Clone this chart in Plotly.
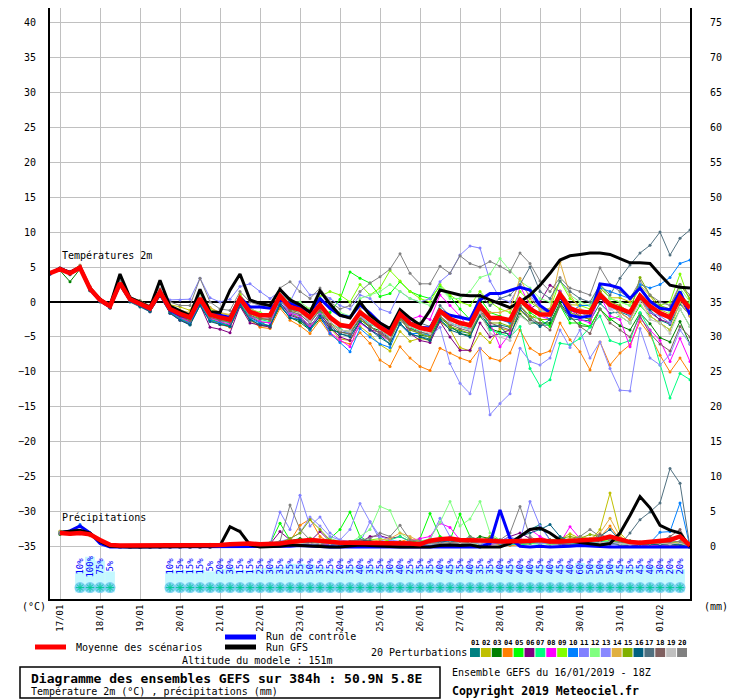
import pandas as pd
import plotly.graph_objects as go

MONO = "DejaVu Sans Mono"

# GEFS 16/01/2019 18Z, pas de 6h sur 384h
start = pd.Timestamp("2019-01-16 18:00")
temp_times = pd.date_range(start, periods=65, freq="6h")
precip_times = temp_times[1:]
day_ticks = pd.date_range("2019-01-17", periods=16, freq="D")
day_labels = ["17/01", "18/01", "19/01", "20/01", "21/01", "22/01", "23/01", "24/01",
              "25/01", "26/01", "27/01", "28/01", "29/01", "30/01", "31/01", "01/02"]

# ---- temperatures 2m (°C) : 1ere valeur puis 4 valeurs par jour (00Z 06Z 12Z 18Z)
mean_t = [4.1, 4.7, 4.1, 4.9, 1.9,  0.3, -0.6, 2.7, 0.4,  -0.2, -0.9, 1.4, -1.0,  -1.7, -2.2, 0.5, -1.8,
          -2.2, -2.5, 0.5, -1.4,  -1.9, -1.9, 0.9, -0.7,  -1.1, -2.2, -0.4, -2.2,  -3.3, -3.5, -1.5, -2.6,
          -3.6, -4.5, -1.7, -3.1,  -3.7, -4.0, -1.3, -2.4,  -3.0, -3.3, -0.5, -2.3,  -2.3, -2.6, 0.3, -1.0,
          -1.8, -1.8, 1.1, -0.9,  -1.4, -1.5, 1.0, -0.4,  -0.9, -1.5, 0.9, -0.6,  -1.6, -2.2, 0.7, -0.9]
ctrl_t = [4.1, 4.8, 4.2, 4.9, 1.8,  0.2, -0.7, 2.6, 0.3,  -0.3, -1.0, 1.2, -1.2,  -1.9, -2.3, 0.3, -1.5,
          -1.9, -2.2, 0.6, -0.7,  -0.7, -0.9, 0.3, -0.2,  -0.7, -1.4, 0.5, -0.9,  -1.9, -2.2, -0.4, -1.6,
          -3.0, -4.0, -1.5, -3.0,  -3.6, -3.7, -1.2, -1.9,  -2.2, -2.5, 0.3, 1.2,  1.2, 1.7, 2.1, 1.7,
          -0.5, -1.5, 1.0, -1.9,  -2.2, -2.0, 2.6, 2.4,  2.0, 0.5, 2.0, 0.1,  -0.9, -1.1, 1.5, -1.8]
gfs_t = [4.1, 4.8, 4.2, 5.0, 2.0,  0.4, -0.5, 4.0, 0.6,  0.0, -0.8, 3.1, -0.6,  -1.3, -1.9, 1.8, -1.4,
         -1.5, 1.7, 4.0, 0.3,  -0.2, -0.5, 1.8, 0.3,  -0.4, -1.5, 1.6, -0.3,  -1.9, -2.3, 0.0, -1.9,
         -3.0, -3.8, -1.1, -2.3,  -3.3, -1.2, 1.7, 1.3,  1.0, 0.9, 0.9, 0.3,  -0.2, -0.8, 0.0, 1.0,
         2.4, 4.1, 6.0, 6.6,  6.8, 7.0, 7.0, 6.8,  6.2, 5.6, 5.6, 5.5,  3.9, 2.4, 2.1, 2.0]

p01_t = [4.1, 4.6, 4.0, 4.8, 1.8,  0.1, -0.8, 2.5, 0.2,  -0.5, -1.2, 1.1, -1.3,  -2.3, -2.8, -0.1, -2.4,
         -3.0, -3.3, -0.3, -2.2,  -2.9, -2.9, -0.1, -1.7,  -2.3, -3.4, -1.8, -3.4,  -4.6, -4.8, -2.8, -3.9,
         -5.1, -6.0, -3.2, -4.6,  -5.0, -5.3, -2.6, -3.7,  -4.2, -4.5, -1.7, -3.5,  -3.3, -3.6, -0.7, -2.0,
         -3.3, -3.3, -0.4, -2.4,  -2.6, -2.7, -0.2, -1.6,  -1.4, -2.0, 0.4, -1.1,  -2.6, -3.2, -0.3, -1.9]
p02_t = [4.2, 4.7, 4.2, 5.0, 2.0,  0.4, -0.5, 2.8, 0.6,  0.2, -0.6, 1.7, -0.4,  -0.7, -1.2, 1.5, -0.8,
         -1.6, -1.9, 1.1, -0.8,  -2.4, -2.4, 0.4, -1.2,  -2.6, -3.7, -2.1, -3.7,  -5.3, -5.5, -3.5, -4.6,
         -6.1, -7.0, -4.2, -5.6,  -5.2, -5.5, -2.8, -3.9,  -6.5, -7.0, -4.5, -5.8,  -3.8, -4.1, -1.2, -2.5,
         -1.3, -1.3, 1.6, -0.4,  -0.4, -0.5, 2.0, 0.6,  0.6, 0.0, 2.4, 0.9,  -1.1, -1.7, 1.2, -0.4]
p03_t = [4.0, 4.5, 2.9, 4.7, 1.6,  0.1, -0.8, 2.5, 0.2,  -0.6, -1.3, 1.0, -1.4,  -2.5, -3.0, -0.3, -2.6,
         -3.2, -3.5, -0.5, -2.4,  -3.4, -3.4, -0.6, -2.2,  -2.9, -4.0, -2.4, -4.0,  -4.3, -4.5, -2.5, -3.6,
         -4.1, -5.0, -2.2, -3.6,  -4.7, -5.0, -2.3, -3.4,  -4.5, -4.8, -2.0, -3.8,  -4.3, -4.6, -1.7, -3.0,
         -3.0, -3.0, -0.1, -2.1,  -3.4, -3.5, -1.0, -2.4,  -3.4, -4.0, -1.6, -3.1,  -5.1, -5.7, -2.8, -6.0]
p04_t = [4.1, 4.8, 4.1, 5.0, 1.9,  0.3, -0.6, 2.9, 0.4,  -0.4, -1.2, 1.2, -1.3,  -2.4, -2.9, -0.2, -2.5,
         -3.2, -3.6, -0.6, -2.6,  -3.6, -3.8, -0.9, -2.6,  -3.4, -4.5, -2.6, -4.6,  -5.6, -6.0, -4.4, -5.9,
         -8.3, -9.2, -6.4, -8.0,  -9.2, -9.8, -6.6, -7.3,  -8.0, -8.5, -6.6, -8.0,  -8.4, -7.3, -4.0, -6.6,
         -7.5, -7.0, -3.0, -5.4,  -7.1, -9.7, -5.7, -9.0,  -7.3, -6.1, -2.8, -4.7,  -7.6, -10.0, -8.0, -10.2]
p05_t = [4.2, 4.8, 4.3, 5.1, 2.0,  0.2, -0.8, 2.6, 0.1,  -0.5, -1.3, 1.0, -1.5,  -2.3, -3.2, -0.5, -2.6,
         -2.8, -3.5, -0.2, -2.0,  -2.8, -3.6, 0.2, -1.0,  -1.3, -2.0, -1.2, -1.5,  0.4, 4.3, 3.4, 2.7,
         0.8, 1.2, 2.9, 1.5,  0.9, 0.5, 2.2, 0.8,  -1.0, -2.5, 0.5, -1.5,  -2.0, -3.0, 0.0, -1.5,
         -2.5, -3.5, -0.5, -3.0,  -3.0, -3.5, -1.0, -2.5,  -2.0, -3.0, -0.5, -2.0,  -3.0, -4.0, -1.0, -3.5]
p06_t = [4.0, 4.6, 4.3, 4.7, 1.7,  0.2, -0.8, 2.4, 0.1,  -0.5, -1.4, 1.0, -1.6,  -2.6, -3.2, -0.4, -3.6,
         -3.9, -4.4, -0.6, -3.0,  -3.3, -3.6, -0.1, -1.9,  -2.4, -3.6, -1.5, -3.6,  -5.0, -5.5, -2.8, -4.0,
         -4.3, -5.2, -2.0, -4.5,  -5.5, -5.8, -2.8, -5.0,  -6.9, -6.9, -3.0, -5.0,  -4.5, -4.0, 0.5, -1.0,
         0.0, 2.4, 1.5, -1.0,  -2.0, -2.5, 1.5, -0.5,  -1.5, -2.5, 0.5, -1.5,  -2.5, -3.0, 0.5, -2.0]
p07_t = [4.1, 4.7, 4.0, 4.8, 1.9,  0.3, -0.5, 2.7, 0.4,  -0.3, -0.9, 1.1, -1.2,  -2.0, -2.6, 0.0, -2.2,
         -2.7, -3.0, 0.2, -2.0,  -2.5, -2.8, 0.2, -1.5,  -2.0, -3.5, -1.6, -3.0,  -3.8, -4.6, -2.0, -3.2,
         -3.8, -5.2, -2.2, -3.6,  -4.2, -4.8, -1.0, -3.0,  -3.5, -3.8, -0.3, -4.0,  -4.5, -5.0, -3.5, -9.5,
         -12.0, -11.1, -5.9, -6.1,  -5.2, -3.6, -2.0, -5.5,  -6.0, -5.5, -1.5, -4.0,  -9.0, -13.7, -10.2, -11.1]
p08_t = [4.0, 4.6, 4.1, 4.8, 1.8,  0.2, -0.7, 2.6, 0.3,  -0.4, -1.1, 1.2, -1.3,  -2.2, -2.8, 0.0, -2.3,
         -2.8, -3.2, 0.0, -2.0,  -2.8, -3.0, 0.4, -1.6,  -2.0, -3.5, -1.8, -4.4,  -5.4, -6.4, -3.0, -4.0,
         -4.8, -5.5, -2.0, -2.5,  -2.0, -2.5, 1.0, -0.5,  -2.0, -4.0, -1.5, -3.0,  -6.4, -4.5, 2.3, -0.5,
         -2.0, -2.5, 1.5, -1.0,  -2.5, -3.0, 1.0, -2.0,  -2.5, -6.4, -2.3, -4.0,  -5.5, -8.5, -5.2, -8.5]
p09_t = [4.2, 4.8, 4.2, 5.1, 2.0,  0.3, -0.7, 2.7, 0.4,  -0.2, -1.0, 1.5, -0.9,  -1.5, -2.0, 1.0, -1.0,
         -1.8, -2.2, 1.0, -1.0,  -1.5, -2.0, 1.5, 0.5,  -0.5, -1.0, 0.8, 1.5,  1.0, 0.0, 2.5, 1.0,
         2.0, 4.5, 3.0, 1.5,  0.5, 0.0, 2.5, 1.0,  0.0, -0.5, 1.5, 0.0,  -1.0, -1.5, 1.5, 0.0,
         -1.0, -1.0, 3.0, 0.5,  -0.5, -1.0, 2.5, 0.5,  0.0, -0.5, 2.0, 0.0,  -0.5, 0.0, 4.0, 0.0]
p10_t = [4.0, 4.6, 4.0, 4.7, 1.7,  0.1, -0.8, 2.5, 0.2,  -0.5, -1.2, 1.1, -1.4,  -2.4, -3.0, -0.3, -2.6,
         -3.0, -3.5, -0.5, -2.4,  -3.0, -3.4, -0.3, -2.2,  -2.5, -4.0, -2.0, -4.5,  -5.8, -7.1, -3.8, -5.0,
         -6.0, -6.5, -3.0, -4.5,  -4.5, -4.8, -1.5, -3.0,  -3.5, -4.0, -0.8, -2.5,  -2.5, -3.0, 0.0, -1.0,
         -1.5, -2.5, 0.5, -1.5,  -0.5, -0.5, 2.0, 1.5,  1.0, 0.5, 2.5, 2.0,  2.5, 3.5, 5.5, 6.0]
p11_t = [4.2, 4.9, 4.3, 5.1, 2.1,  0.4, -0.4, 2.9, 0.6,  -0.1, -0.6, 1.7, 0.3,  0.3, 0.4, 3.4, 0.6,
         0.0, 0.4, 2.2, 2.6,  1.5, 0.5, 1.5, 0.0,  2.9, 1.0, 1.3, 0.5,  -0.5, -1.0, 1.0, 0.5,
         -1.0, -1.5, 1.5, 0.5,  0.0, 0.5, 2.9, 4.1,  6.7, 8.0, 7.7, 3.0,  0.5, 0.0, 2.5, 1.0,
         -1.0, -1.5, 1.5, -0.5,  -1.5, -2.0, 1.0, -1.0,  -1.0, -2.0, 0.5, -1.5,  -2.0, -3.0, 0.5, -1.5]
p12_t = [4.1, 4.7, 4.2, 5.0, 2.0,  0.4, -0.5, 2.9, 0.5,  -0.1, -0.8, 1.5, -0.8,  -1.4, -2.0, 0.9, -1.3,
         -1.8, -2.2, 0.8, -1.0,  -1.6, -1.8, 1.2, 0.0,  0.0, -1.0, 0.5, -1.0,  -1.5, -2.0, 0.5, 1.0,
         1.5, 2.5, 1.5, 0.5,  0.0, -0.5, 2.0, 0.5,  0.5, 1.5, 3.5, 4.0,  6.2, 4.5, 3.0, 2.0,
         0.5, 0.0, 3.0, 1.0,  0.0, -0.5, 2.5, 0.5,  0.0, -0.5, 2.0, 0.0,  -0.5, -1.5, 2.0, 0.0]
p13_t = [4.1, 4.7, 4.1, 4.9, 1.9,  0.3, -0.6, 2.7, 0.4,  -0.3, -1.0, 1.3, -1.1,  -1.9, -2.5, 0.2, -2.1,
         -2.4, -2.8, 0.3, -1.6,  -2.2, -2.5, 0.5, -1.4,  -1.8, -3.0, -1.0, -2.8,  -4.0, -4.5, -2.0, -3.5,
         -4.5, -5.5, -2.5, -4.0,  -4.5, -5.0, -3.6, -8.8,  -11.6, -13.1, -6.6, -16.1,  -14.5, -13.1, -6.6, -8.5,
         -9.0, -8.0, -4.0, -6.5,  -4.0, -8.0, -5.7, -9.5,  -12.6, -12.7, -3.8, -8.0,  -9.0, -7.5, -4.0, -6.0]
p14_t = [4.3, 4.9, 4.3, 5.3, 2.2,  0.4, -0.4, 3.0, 0.6,  0.0, -0.6, 1.7, -0.6,  -1.2, -1.5, 0.8, -0.8,
         -1.5, -1.8, 0.8, -0.8,  -1.8, -2.0, 1.0, -0.5,  -1.5, -2.5, -0.5, -2.0,  -3.0, -3.5, -1.0, -2.5,
         -3.5, -4.2, -1.5, -3.0,  -3.5, -4.0, -1.5, -2.5,  -3.0, -3.5, -0.5, -1.5,  -1.5, -1.0, 3.4, 0.5,
         -1.0, -1.0, 5.7, 1.0,  -1.0, -1.5, 1.5, -0.5,  -1.5, -2.5, 0.5, -2.0,  -3.0, -4.0, 0.0, -2.0]
p15_t = [4.1, 4.7, 4.0, 4.8, 1.8,  0.2, -0.7, 2.6, 0.3,  -0.3, -1.0, 1.3, -1.2,  -2.0, -2.6, 0.3, -2.0,
         -2.5, -2.8, 0.4, -1.7,  -2.3, -2.6, 0.5, -1.2,  -1.5, -2.8, -1.0, -3.0,  -4.0, -4.2, -2.5, -3.5,
         -4.5, -5.5, -2.5, -4.0,  -4.5, -5.0, -2.0, -3.5,  -4.0, -4.5, -1.5, -3.0,  -3.0, -3.5, -0.5, -2.0,
         -2.5, -2.5, 0.5, -1.5,  -2.0, -2.5, 1.5, 0.0,  -0.5, -1.5, 3.5, 1.0,  -0.5, -1.0, 2.5, 0.5]
p16_t = [4.0, 4.6, 3.9, 4.7, 1.6,  0.0, -0.9, 2.2, 0.0,  -0.7, -1.4, 0.8, -1.6,  -2.6, -3.3, -0.5, -2.8,
         -3.2, -3.5, -0.4, -2.6,  -3.2, -3.4, -0.4, -2.3,  -2.6, -3.8, -2.0, -3.8,  -4.5, -5.0, -2.8, -4.0,
         -4.8, -6.0, -3.0, -4.5,  -5.0, -5.5, -2.5, -4.0,  -4.5, -5.0, -1.8, -3.5,  -3.5, -5.0, -1.0, -2.5,
         -3.5, -2.5, 0.5, -1.0,  -1.5, -2.0, 0.5, -0.5,  -1.0, -1.5, 1.0, -1.0,  -1.5, -2.5, 0.5, -1.5]
p17_t = [4.1, 4.7, 4.1, 4.9, 1.9,  0.3, -0.6, 2.6, 0.3,  -0.3, -1.0, 1.2, -1.1,  -1.8, -2.3, 0.3, -1.8,
         -2.2, -2.5, 0.4, -1.5,  -2.0, -2.2, 0.5, -1.0,  -1.5, -2.5, -0.5, -2.5,  -3.5, -3.8, -1.5, -3.0,
         -3.8, -4.5, -1.5, -3.0,  -3.0, -3.5, -0.5, -2.0,  -2.0, -2.5, 1.0, -0.5,  0.5, 1.0, 2.5, 5.0,
         1.5, 0.5, 3.0, 1.5,  0.5, 0.0, 2.5, 1.0,  3.4, 5.3, 7.0, 8.1,  10.0, 6.7, 9.1, 10.3]
p18_t = [4.1, 4.7, 4.1, 4.8, 1.8,  0.2, -0.7, 2.5, 0.3,  -0.4, -1.1, 1.2, -1.3,  -2.1, -2.7, 0.1, -2.2,
         -2.6, -2.9, 0.2, -1.9,  -2.4, -2.5, 0.6, -1.3,  -1.8, -3.0, -1.2, -3.2,  -4.3, -4.6, -2.2, -3.5,
         -4.5, -5.3, -2.3, -3.8,  -4.3, -4.6, -2.0, -3.2,  -3.8, -4.2, -1.2, -3.0,  -3.5, -4.0, -0.5, -2.5,
         -3.0, -4.0, -0.5, -2.0,  -3.5, -4.5, -1.0, -3.0,  -4.0, -5.0, -2.0, -4.5,  -6.0, -7.0, -3.5, -5.0]
p19_t = [4.2, 4.8, 4.2, 5.0, 2.0,  0.3, -0.5, 2.8, 0.5,  -0.1, -0.8, 1.5, -0.8,  -1.5, -2.0, 0.8, -1.5,
         -2.0, -2.3, 0.6, -1.2,  -1.8, -2.0, 0.9, -0.8,  -1.5, -2.8, -0.8, -2.8,  -4.0, -4.2, -2.0, -3.0,
         -4.0, -5.0, -2.0, -3.5,  -4.0, -4.5, -1.5, -3.0,  -3.5, -4.0, -1.5, -4.5,  -5.0, -5.5, -2.0, -3.0,
         -2.0, -2.0, 1.0, -1.0,  -1.5, -2.0, 1.0, -1.0,  -2.0, -3.0, 0.0, -2.5,  -3.0, -4.5, -1.0, -3.5]
p20_t = [4.2, 4.9, 4.4, 5.2, 2.2,  0.5, -0.3, 3.2, 0.8,  0.2, -0.5, 1.9, 0.0,  -0.5, -0.5, 3.4, 0.0,
         -1.0, -1.2, 1.5, 0.0,  -0.5, -0.5, 2.0, 2.9,  1.5, 0.5, 2.0, 0.0,  -1.0, -0.5, 1.5, 2.7,
         3.6, 4.7, 6.9, 4.1,  2.6, 2.6, 5.1, 4.1,  6.6, 5.5, 5.0, 5.8,  5.1, 4.3, 7.0, 5.5,
         3.0, 1.5, 3.5, 2.0,  1.5, 1.0, 4.9, 2.5,  1.5, 0.5, 3.0, 1.0,  0.0, -0.5, 2.5, 1.0]

# ---- precipitations (mm / 6h), 4 valeurs par jour a partir du 17/01 00Z
mean_p = [2.0, 1.9, 2.0, 1.8,  1.0, 0.3, 0.2, 0.2,  0.2, 0.2, 0.2, 0.3,  0.3, 0.3, 0.3, 0.3,
          0.3, 0.4, 0.5, 0.5,  0.4, 0.4, 0.5, 0.7,  0.9, 1.0, 0.9, 0.7,  0.6, 0.6, 0.6, 0.6,
          0.5, 0.5, 0.5, 0.5,  0.4, 0.9, 1.1, 1.2,  1.0, 1.0, 0.9, 0.9,  0.8, 0.8, 0.9, 0.9,
          1.0, 0.8, 0.8, 0.9,  1.0, 1.0, 1.1, 1.5,  1.1, 0.7, 0.6, 0.7,  0.8, 1.0, 1.5, 0.2]
ctrl_p = [2.0, 2.3, 3.0, 2.0,  0.5, 0.0, 0.0, 0.0,  0.0, 0.0, 0.0, 0.0,  0.0, 0.0, 0.0, 0.0,
          0.0, 0.0, 0.0, 0.0,  0.0, 0.0, 0.0, 0.1,  0.2, 0.1, 0.0, 0.0,  0.0, 0.0, 0.0, 0.0,
          0.0, 0.0, 0.0, 0.0,  0.0, 0.0, 0.1, 0.1,  0.0, 0.0, 0.0, 0.5,  5.3, 1.2, 0.1, 0.0,
          0.1, 0.0, 0.0, 0.1,  0.2, 0.1, 0.0, 0.0,  0.0, 0.0, 0.0, 0.0,  0.0, 0.0, 0.0, 0.0]
gfs_p = [2.1, 2.2, 2.4, 2.0,  0.8, 0.1, 0.0, 0.0,  0.0, 0.0, 0.0, 0.0,  0.0, 0.0, 0.0, 0.1,
         0.2, 2.9, 2.2, 0.3,  0.0, 0.0, 0.1, 0.3,  0.2, 0.1, 0.0, 0.0,  0.0, 0.2, 0.3, 0.2,
         0.1, 0.0, 0.0, 0.0,  0.0, 0.0, 0.2, 0.3,  0.2, 0.3, 0.0, 0.0,  0.0, 0.5, 1.5, 2.5,
         2.7, 2.0, 1.0, 0.8,  0.6, 0.5, 0.3, 0.5,  2.0, 4.5, 7.2, 5.6,  3.1, 2.4, 2.0, 0.0]

p01_p = [2.0, 1.8, 2.1, 1.7,  0.9, 0.1, 0.0, 0.0,  0.0, 0.0, 0.0, 0.0,  0.0, 0.0, 0.0, 0.1,
         0.2, 0.3, 0.4, 0.2,  0.1, 0.2, 0.4, 0.6,  0.8, 0.5, 0.3, 0.2,  0.4, 0.6, 0.3, 0.2,
         0.2, 0.1, 0.3, 0.5,  0.8, 1.0, 0.6, 0.4,  0.5, 0.3, 0.2, 0.4,  0.6, 1.0, 1.5, 2.5,
         3.2, 1.0, 0.5, 0.3,  0.4, 0.6, 0.8, 0.5,  0.3, 0.2, 0.1, 0.3,  0.5, 0.6, 0.8, 0.0]
p02_p = [2.2, 2.0, 2.3, 1.9,  1.0, 0.1, 0.0, 0.0,  0.0, 0.0, 0.0, 0.0,  0.0, 0.0, 0.0, 0.0,
         0.1, 0.2, 0.3, 0.2,  0.2, 0.5, 0.8, 0.4,  0.6, 1.3, 1.0, 0.4,  0.3, 0.2, 0.4, 0.6,
         0.4, 0.3, 0.2, 0.4,  0.5, 0.4, 0.3, 0.3,  0.6, 0.8, 0.5, 0.6,  0.3, 0.4, 0.6, 0.8,
         0.5, 0.7, 1.1, 1.9,  1.2, 0.8, 2.5, 7.7,  2.0, 0.5, 0.3, 0.2,  0.4, 0.6, 0.8, 0.0]
p03_p = [1.8, 1.9, 2.0, 1.8,  0.8, 0.1, 0.0, 0.0,  0.0, 0.0, 0.0, 0.0,  0.0, 0.0, 0.1, 0.1,
         0.2, 0.3, 0.3, 0.2,  0.3, 0.3, 0.4, 0.9,  1.2, 0.8, 0.6, 0.4,  0.3, 0.6, 0.8, 0.5,
         0.3, 0.4, 0.5, 0.9,  0.7, 0.5, 0.9, 1.2,  1.0, 0.8, 1.5, 1.2,  0.9, 0.6, 0.5, 0.8,
         0.6, 1.0, 0.7, 0.8,  0.9, 1.0, 1.2, 1.0,  0.8, 0.9, 0.7, 0.5,  0.4, 0.3, 0.2, 0.0]
p04_p = [1.9, 2.0, 2.2, 1.6,  0.9, 0.2, 0.0, 0.0,  0.0, 0.0, 0.0, 0.0,  0.0, 0.0, 0.0, 0.0,
         0.1, 0.1, 0.2, 0.2,  0.3, 0.2, 0.5, 0.8,  3.1, 4.0, 1.5, 0.6,  0.4, 0.3, 0.2, 0.3,
         0.2, 0.3, 0.8, 1.2,  0.6, 0.4, 0.3, 0.5,  0.4, 0.3, 0.5, 0.6,  0.4, 0.2, 0.3, 0.5,
         0.6, 0.4, 0.5, 0.7,  0.8, 1.0, 1.4, 3.0,  1.0, 0.4, 0.2, 0.2,  0.3, 0.2, 0.3, 0.0]
p05_p = [2.1, 1.9, 2.2, 1.8,  1.0, 0.2, 0.0, 0.0,  0.0, 0.0, 0.0, 0.0,  0.0, 0.0, 0.0, 0.1,
         0.1, 0.1, 0.2, 0.1,  0.3, 0.5, 3.4, 1.0,  0.6, 0.5, 0.8, 1.2,  2.5, 5.0, 1.5, 0.6,
         0.5, 0.6, 0.4, 0.5,  1.2, 4.8, 1.5, 1.0,  4.7, 1.5, 0.8, 0.6,  0.5, 0.4, 0.6, 0.5,
         0.6, 0.4, 0.5, 0.6,  0.5, 0.4, 0.6, 0.5,  0.3, 0.4, 0.5, 0.4,  0.2, 0.3, 0.4, 0.0]
p06_p = [2.0, 2.1, 2.0, 1.9,  1.0, 0.1, 0.0, 0.0,  0.0, 0.0, 0.0, 0.0,  0.0, 0.0, 0.0, 0.0,
         0.1, 0.2, 0.2, 0.1,  0.2, 0.4, 2.2, 1.0,  0.6, 0.8, 2.2, 0.8,  0.5, 0.4, 0.6, 1.5,
         1.6, 1.2, 1.5, 0.8,  0.5, 0.4, 0.3, 0.5,  0.4, 0.6, 0.5, 0.6,  0.8, 1.5, 2.0, 1.2,
         0.6, 0.5, 0.4, 0.3,  0.4, 0.5, 0.3, 0.4,  0.3, 0.2, 0.2, 0.3,  0.4, 0.3, 0.3, 0.0]
p07_p = [1.9, 1.8, 2.0, 1.7,  0.9, 0.1, 0.0, 0.0,  0.0, 0.0, 0.0, 0.0,  0.0, 0.0, 0.0, 0.0,
         0.1, 0.1, 0.1, 0.2,  0.1, 0.3, 0.5, 0.4,  0.8, 1.2, 0.6, 0.5,  0.4, 0.8, 1.1, 0.9,
         0.6, 1.0, 1.5, 0.8,  1.0, 0.6, 0.4, 0.3,  0.3, 0.4, 0.5, 0.4,  0.5, 0.4, 0.3, 0.5,
         0.4, 0.6, 0.8, 0.5,  0.4, 0.5, 0.6, 0.8,  0.7, 0.6, 0.5, 0.4,  0.3, 0.4, 0.5, 0.0]
p08_p = [2.1, 2.0, 2.1, 1.8,  0.9, 0.1, 0.0, 0.0,  0.0, 0.0, 0.0, 0.0,  0.0, 0.0, 0.0, 0.0,
         0.1, 0.2, 0.2, 0.1,  0.2, 0.3, 0.6, 0.4,  0.5, 0.6, 0.5, 0.3,  0.4, 0.5, 0.3, 0.4,
         0.6, 0.8, 0.5, 0.9,  1.2, 1.5, 3.4, 2.8,  1.0, 0.8, 0.6, 0.4,  0.5, 0.6, 1.2, 2.5,
         1.5, 0.8, 0.6, 2.9,  1.2, 0.6, 0.4, 0.5,  0.6, 0.4, 0.3, 0.3,  0.2, 0.3, 0.4, 0.0]
p09_p = [2.2, 2.1, 2.3, 1.9,  1.0, 0.1, 0.0, 0.0,  0.0, 0.0, 0.0, 0.0,  0.0, 0.0, 0.0, 0.0,
         0.2, 0.2, 0.3, 0.2,  0.2, 0.3, 0.5, 0.6,  0.6, 0.5, 0.9, 0.6,  0.5, 0.6, 0.7, 1.0,
         1.2, 0.8, 0.6, 0.5,  0.6, 0.5, 0.8, 0.7,  0.6, 0.5, 0.6, 0.8,  0.7, 0.6, 0.5, 0.7,
         0.8, 1.0, 0.8, 0.9,  1.0, 1.2, 1.0, 0.8,  0.6, 0.5, 0.6, 0.4,  0.5, 0.6, 0.7, 0.0]
p10_p = [2.0, 2.2, 3.2, 2.0,  1.0, 0.1, 0.0, 0.0,  0.0, 0.0, 0.0, 0.0,  0.0, 0.0, 0.0, 0.0,
         0.1, 0.1, 0.2, 0.2,  0.2, 0.3, 0.4, 0.3,  0.4, 0.5, 0.6, 0.4,  0.3, 0.4, 0.5, 0.6,
         0.4, 0.5, 0.6, 0.5,  0.4, 0.3, 0.5, 1.0,  0.8, 0.6, 0.5, 0.6,  0.5, 0.4, 0.6, 0.8,
         0.7, 0.6, 0.5, 0.6,  0.5, 0.4, 0.6, 0.7,  0.6, 0.5, 0.4, 0.6,  2.1, 2.2, 6.3, 0.0]
p11_p = [1.9, 2.0, 2.1, 1.8,  0.9, 0.1, 0.0, 0.0,  0.0, 0.0, 0.0, 0.0,  0.0, 0.0, 0.0, 0.0,
         0.2, 0.3, 0.3, 0.2,  0.3, 0.4, 5.0, 2.5,  7.4, 3.0, 4.3, 2.0,  1.0, 0.8, 0.6, 3.6,
         1.0, 0.6, 0.5, 0.4,  0.6, 1.0, 4.1, 1.5,  1.0, 0.8, 0.5, 0.6,  0.8, 1.5, 0.8, 6.5,
         3.0, 1.0, 0.5, 0.4,  0.5, 0.6, 0.5, 0.4,  0.3, 0.4, 0.5, 0.4,  0.3, 0.4, 0.3, 0.0]
p12_p = [2.1, 2.0, 2.2, 1.9,  1.0, 0.1, 0.0, 0.0,  0.0, 0.0, 0.0, 0.0,  0.0, 0.0, 0.0, 0.0,
         0.1, 0.2, 0.2, 0.3,  0.2, 0.3, 0.4, 0.5,  0.6, 0.8, 1.0, 1.2,  0.8, 0.6, 1.5, 2.5,
         5.8, 5.2, 2.0, 1.0,  0.8, 1.2, 3.5, 6.5,  3.0, 4.0, 6.5, 2.0,  1.0, 0.6, 0.5, 0.6,
         0.5, 0.4, 0.5, 0.6,  0.5, 0.6, 0.4, 0.5,  0.4, 0.3, 0.4, 0.5,  0.6, 0.5, 0.4, 0.0]
p13_p = [2.0, 2.1, 1.9, 1.8,  0.9, 0.1, 0.0, 0.0,  0.0, 0.0, 0.0, 0.0,  0.0, 0.0, 0.0, 0.0,
         0.1, 0.2, 0.3, 0.2,  0.2, 0.4, 0.8, 1.2,  2.0, 4.3, 3.0, 1.5,  1.0, 2.5, 6.2, 3.6,
         1.5, 1.0, 0.8, 0.6,  0.5, 0.6, 0.7, 0.8,  0.9, 0.7, 0.6, 0.5,  0.6, 0.8, 0.9, 0.7,
         0.5, 0.6, 0.8, 0.7,  0.6, 0.5, 0.4, 0.6,  0.5, 0.4, 0.3, 0.4,  0.5, 0.6, 0.4, 0.0]
p14_p = [2.3, 2.1, 2.2, 2.0,  1.1, 0.2, 0.0, 0.0,  0.0, 0.0, 0.0, 0.1,  0.1, 0.0, 0.0, 0.0,
         0.1, 0.2, 0.2, 0.3,  0.3, 0.4, 0.6, 0.8,  1.0, 0.8, 0.6, 0.5,  0.4, 0.5, 0.6, 0.8,
         1.0, 1.2, 2.0, 1.5,  0.8, 0.6, 0.5, 0.6,  0.7, 0.8, 0.6, 0.7,  0.8, 0.6, 0.9, 1.0,
         0.8, 0.7, 0.9, 1.2,  1.5, 1.2, 2.0, 4.1,  1.5, 0.6, 0.4, 0.3,  0.4, 0.5, 0.6, 0.0]
p15_p = [2.0, 1.9, 2.1, 1.8,  0.9, 0.1, 0.0, 0.0,  0.0, 0.0, 0.0, 0.0,  0.0, 0.0, 0.0, 0.0,
         0.1, 0.1, 0.2, 0.2,  0.2, 0.3, 0.6, 1.2,  2.0, 3.9, 2.5, 1.0,  0.6, 0.5, 0.4, 0.6,
         0.5, 0.6, 0.8, 0.7,  0.6, 0.8, 1.0, 0.9,  0.7, 0.6, 0.8, 1.5,  1.0, 0.8, 0.6, 0.7,
         0.8, 1.0, 1.2, 1.5,  1.2, 1.8, 1.5, 1.0,  0.6, 0.5, 0.4, 0.5,  0.4, 0.3, 0.5, 0.0]
p16_p = [2.1, 2.0, 2.0, 1.9,  1.0, 0.1, 0.0, 0.0,  0.0, 0.0, 0.0, 0.0,  0.0, 0.0, 0.0, 0.0,
         0.2, 0.1, 0.2, 0.2,  0.2, 0.3, 0.5, 0.6,  0.5, 0.6, 0.4, 0.5,  0.6, 0.8, 1.0, 0.8,
         0.7, 0.6, 0.5, 0.6,  0.6, 0.8, 0.7, 0.9,  0.6, 0.5, 0.8, 1.2,  1.0, 0.8, 1.5, 2.0,
         2.5, 3.2, 1.5, 0.8,  0.6, 0.8, 1.5, 2.5,  1.0, 0.6, 0.4, 0.4,  0.3, 0.4, 0.3, 0.0]
p17_p = [2.0, 2.1, 2.0, 1.8,  0.9, 0.1, 0.0, 0.0,  0.0, 0.0, 0.0, 0.0,  0.0, 0.0, 0.0, 0.0,
         0.1, 0.1, 0.2, 0.2,  0.2, 0.3, 0.4, 0.3,  0.4, 0.5, 0.6, 0.5,  0.5, 0.4, 0.5, 0.6,
         0.5, 0.6, 0.7, 0.6,  0.5, 0.6, 0.5, 0.4,  0.5, 0.6, 0.7, 0.8,  0.6, 0.5, 0.7, 1.0,
         0.8, 0.6, 0.5, 0.4,  0.3, 0.4, 0.5, 0.6,  0.3, 2.0, 3.9, 5.0,  6.3, 11.2, 9.1, 0.0]
p18_p = [2.0, 1.9, 2.1, 1.8,  0.9, 0.1, 0.0, 0.0,  0.0, 0.0, 0.0, 0.0,  0.0, 0.0, 0.0, 0.0,
         0.2, 0.2, 0.3, 0.2,  0.2, 0.4, 0.5, 0.4,  0.6, 0.5, 0.4, 0.5,  0.6, 0.8, 0.6, 0.5,
         0.4, 0.5, 0.6, 0.5,  0.6, 0.5, 0.4, 0.5,  0.6, 0.8, 1.0, 0.9,  0.7, 0.6, 0.5, 0.6,
         0.8, 1.0, 0.9, 0.8,  1.0, 0.9, 1.8, 1.2,  0.8, 0.6, 0.5, 0.6,  0.8, 1.5, 2.5, 0.0]
p19_p = [2.1, 2.0, 2.2, 1.9,  1.0, 0.2, 0.0, 0.0,  0.1, 0.1, 0.1, 0.2,  0.2, 0.3, 0.2, 0.2,
         0.3, 2.8, 2.4, 0.6,  0.3, 0.3, 0.5, 0.6,  0.5, 0.4, 0.6, 0.5,  0.5, 0.6, 0.5, 0.4,
         0.5, 0.6, 0.5, 0.4,  0.5, 0.4, 0.5, 0.6,  0.6, 0.5, 0.6, 0.7,  0.6, 0.8, 1.0, 0.9,
         0.7, 0.6, 0.8, 0.7,  0.6, 0.5, 0.6, 0.7,  0.5, 0.4, 0.5, 0.6,  0.5, 0.4, 0.6, 0.0]
p20_p = [2.0, 2.1, 2.0, 1.8,  0.9, 0.2, 0.1, 0.1,  0.1, 0.1, 0.2, 0.1,  0.1, 0.2, 0.3, 0.4,
         0.3, 0.2, 0.3, 0.4,  0.4, 0.6, 0.8, 6.0,  2.5, 1.0, 0.8, 0.6,  0.6, 0.8, 1.0, 1.2,
         2.0, 1.5, 3.1, 1.0,  0.8, 0.6, 0.5, 0.6,  0.8, 1.5, 1.0, 1.0,  1.0, 2.0, 5.8, 1.5,
         0.7, 0.6, 0.8, 1.0,  1.5, 2.5, 1.5, 1.0,  0.8, 0.7, 0.6, 0.5,  0.6, 0.7, 0.8, 0.0]

# probabilite de precipitation affichee sous le graphique (par pas de 6h)
rain_prob = ["", "", "10%", "100%", "75%", "5%", "", "", "", "", "",
             "10%", "15%", "15%", "15%", "5%", "20%", "30%", "15%", "15%", "25%",
             "30%", "35%", "55%", "55%", "50%", "35%", "25%", "20%", "35%", "40%",
             "35%", "25%", "30%", "40%", "25%", "35%", "35%", "40%", "45%", "35%",
             "40%", "35%", "35%", "40%", "45%", "40%", "40%", "45%", "40%", "45%",
             "40%", "60%", "50%", "50%", "50%", "45%", "35%", "45%", "40%", "30%",
             "20%", "20%", ""]

pert_colors = ["#008080", "#c0c000", "#008000", "#ff8000", "#00ff00", "#800080", "#00ff80",
               "#ff00ff", "#80ff00", "#0080ff", "#8080ff", "#80ff80", "#8888ff", "#e0b040",
               "#80b000", "#006080", "#507080", "#806060", "#c0c0c0", "#808080"]

pert_t = [p01_t, p02_t, p03_t, p04_t, p05_t, p06_t, p07_t, p08_t, p09_t, p10_t,
          p11_t, p12_t, p13_t, p14_t, p15_t, p16_t, p17_t, p18_t, p19_t, p20_t]
pert_p = [p01_p, p02_p, p03_p, p04_p, p05_p, p06_p, p07_p, p08_p, p09_p, p10_p,
          p11_p, p12_p, p13_p, p14_p, p15_p, p16_p, p17_p, p18_p, p19_p, p20_p]

for s in pert_t + [mean_t, ctrl_t, gfs_t]:
    assert len(s) == 65, len(s)
for s in pert_p + [mean_p, ctrl_p, gfs_p]:
    assert len(s) == 64, len(s)
assert len(rain_prob) == 64, len(rain_prob)

# la page a une marge de 8px : figure de 732x692, zone de trace de y=8 a y=599 (pixels de la page)
T_MIN, T_MAX = -42.43, 42.0
OFFSET = 35   # 0 mm = -35 °C


def px(x):
    return (x - 50) / 640


def py(y):
    return (599 - y) / 591


fig = go.Figure()

# bandeau probabilites (cyan) + flocons
prob_times = [t for t, lab in zip(precip_times, rain_prob) if lab]
prob_vals = [int(lab[:-1]) for lab in rain_prob if lab]
fig.add_trace(go.Bar(x=prob_times, y=[2.9 + 2.2 * v / 100 for v in prob_vals], base=-41.5,
                     width=6 * 3600 * 1000 * 0.98, marker=dict(color="#c4f8ff", line_width=0)))
fig.add_trace(go.Scatter(x=prob_times, y=[-40.8] * len(prob_times), mode="markers",
                         marker=dict(symbol="circle", size=11, color="#7ccff0")))
fig.add_trace(go.Scatter(x=prob_times, y=[-40.8] * len(prob_times), mode="markers",
                         marker=dict(symbol="asterisk-open", size=7, line=dict(color="white", width=1))))

# perturbations
for vals_t, vals_p, col in zip(pert_t, pert_p, pert_colors):
    fig.add_trace(go.Scatter(x=temp_times, y=vals_t, mode="lines+markers",
                             line=dict(color=col, width=1), marker=dict(color=col, size=3)))
    fig.add_trace(go.Scatter(x=precip_times, y=vals_p, mode="lines+markers", yaxis="y2",
                             line=dict(color=col, width=1), marker=dict(color=col, size=3)))

# controle, GFS, moyenne
for vals_t, vals_p, col, w in [(ctrl_t, ctrl_p, "#0000ff", 3), (gfs_t, gfs_p, "#000000", 3),
                               (mean_t, mean_p, "#ff0000", 4.5)]:
    fig.add_trace(go.Scatter(x=temp_times, y=vals_t, mode="lines", line=dict(color=col, width=w)))
    fig.add_trace(go.Scatter(x=precip_times, y=vals_p, mode="lines", yaxis="y2",
                             line=dict(color=col, width=w)))

for t, lab in zip(precip_times, rain_prob):
    if lab:
        fig.add_annotation(x=t, y=-37.8, xref="x", yref="y", text=lab, textangle=-90,
                           showarrow=False, font=dict(family=MONO, size=9, color="#0000ff"))

fig.update_layout(
    width=732, height=692,
    margin=dict(l=42, r=50, t=0, b=101),
    paper_bgcolor="white", plot_bgcolor="white",
    showlegend=False, barmode="overlay",
    font=dict(family=MONO, size=10, color="black"),
    xaxis=dict(type="date", range=[temp_times[0], temp_times[-1]],
               tickvals=day_ticks, ticktext=day_labels, tickangle=-90,
               showgrid=True, gridcolor="#c0c0c0", gridwidth=1, zeroline=False,
               showline=True, linecolor="black", linewidth=2, ticks="",
               ticklabelstandoff=0, tickfont=dict(family=MONO, size=9)),
    yaxis=dict(range=[T_MIN, T_MAX], tickvals=list(range(-35, 45, 5)),
               showgrid=True, gridcolor="#c0c0c0", gridwidth=1,
               zeroline=True, zerolinecolor="black", zerolinewidth=2,
               showline=True, linecolor="black", linewidth=2, ticks="",
               ticklabelstandoff=10, tickfont=dict(family=MONO, size=10)),
    yaxis2=dict(overlaying="y", side="right", range=[T_MIN + OFFSET, T_MAX + OFFSET],
                tickvals=list(range(0, 80, 5)), showgrid=False, zeroline=False,
                showline=True, linecolor="black", linewidth=2, ticks="",
                ticklabelstandoff=16, tickfont=dict(family=MONO, size=10)),
)


def label(x, y, text, size=10, anchor="left", color="black"):
    fig.add_annotation(x=px(x), y=py(y), xref="paper", yref="paper", text=text,
                       showarrow=False, xanchor=anchor, yanchor="middle",
                       font=dict(family=MONO, size=size, color=color))


label(60, 255, "Températures 2m")
label(60, 517, "Précipitations")
label(20, 606, "(°C)")
label(702, 606, "(mm)")

# legende du bas
fig.add_shape(type="line", xref="paper", yref="paper", x0=px(35), x1=px(66), y0=py(647), y1=py(647),
              line=dict(color="#ff0000", width=5))
label(74, 647, "Moyenne des scénarios")
fig.add_shape(type="line", xref="paper", yref="paper", x0=px(225), x1=px(256), y0=py(637), y1=py(637),
              line=dict(color="#0000ff", width=5))
label(264, 637, "Run de contrôle")
fig.add_shape(type="line", xref="paper", yref="paper", x0=px(225), x1=px(256), y0=py(647), y1=py(647),
              line=dict(color="#000000", width=5))
label(264, 647, "Run GFS")
label(180, 660, "Altitude du modele : 151m")

label(369, 652, "20 Perturbations")
for k, col in enumerate(pert_colors):
    x0 = 470 + k * 10.9
    fig.add_shape(type="rect", xref="paper", yref="paper", x0=px(x0), x1=px(x0 + 9.9),
                  y0=py(657), y1=py(648), line_width=0, fillcolor=col)
    label(x0 + 5, 643, "<b>%02d</b>" % (k + 1), size=7, anchor="center")

fig.add_shape(type="rect", xref="paper", yref="paper", x0=px(20), x1=px(440), y0=py(698), y1=py(667),
              line=dict(color="black", width=1.5), fillcolor="white")
label(29, 678, "<b>Diagramme des ensembles GEFS sur 384h : 50.9N 5.8E</b>", size=13)
label(29, 691, "Température 2m (°C) , précipitations (mm)")
label(450, 672, "Ensemble GEFS du 16/01/2019 - 18Z")
label(450, 691, "<b>Copyright 2019 Meteociel.fr</b>", size=11.5)

fig.write_html("out.html")
